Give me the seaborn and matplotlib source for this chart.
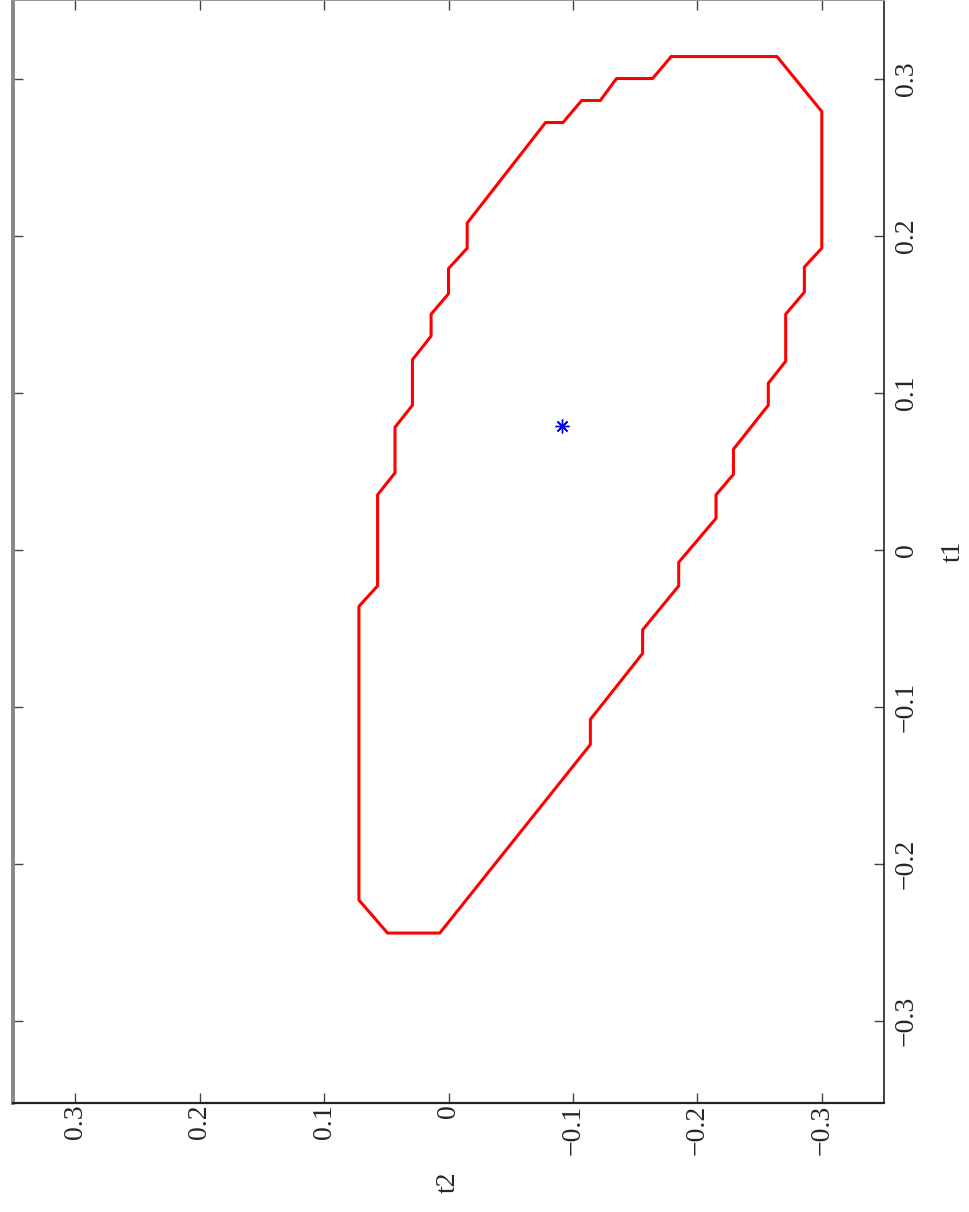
import matplotlib
matplotlib.use("Agg")
import matplotlib.pyplot as plt
import seaborn as sns

# ---- data ----
# closed boundary of the region, as (t1, t2) pairs in drawing order
t1 = [0.314, 0.314, 0.279, 0.192, 0.180, 0.164, 0.150, 0.120, 0.106, 0.092,
      0.064, 0.048, 0.035, 0.020, -0.008, -0.023, -0.051, -0.066, -0.108, -0.124,
      -0.244, -0.244, -0.223, -0.036, -0.023, 0.035, 0.049, 0.078, 0.092, 0.121,
      0.136, 0.150, 0.163, 0.179, 0.192, 0.208, 0.272, 0.272, 0.286, 0.286,
      0.300, 0.300, 0.314]
t2 = [-0.179, -0.264, -0.300, -0.300, -0.286, -0.286, -0.271, -0.271, -0.257, -0.257,
      -0.229, -0.229, -0.215, -0.215, -0.185, -0.185, -0.156, -0.156, -0.114, -0.114,
      0.007, 0.049, 0.072, 0.072, 0.057, 0.057, 0.043, 0.043, 0.029, 0.029,
      0.014, 0.014, 0.000, 0.000, -0.015, -0.015, -0.078, -0.092, -0.107, -0.122,
      -0.135, -0.164, -0.179]

# estimate
t1_hat = [0.079]
t2_hat = [-0.091]

ticks = [-0.3, -0.2, -0.1, 0, 0.1, 0.2, 0.3]
tick_labels = ["\u22120.3", "\u22120.2", "\u22120.1", "0", "0.1", "0.2", "0.3"]

# ---- style ----
sns.set_style("ticks")
plt.rcParams["font.family"] = ["Liberation Serif", "DejaVu Serif"]

W, H = 969, 1212
fig = plt.figure(figsize=(W / 100, H / 100), dpi=100)
ax = fig.add_axes([13 / W, 1 - 1103 / H, (884 - 13) / W, 1103 / H])

# the page is turned: t2 runs right-to-left along the bottom, t1 up the right side
sns.lineplot(x=t2, y=t1, sort=False, estimator=None, color="red", lw=2.2, ax=ax)
ax.plot(t2_hat, t1_hat, linestyle="none", marker=(8, 2, 0), ms=10, mew=1.0, color="blue")

ax.set_xlim(0.35, -0.35)
ax.set_ylim(-0.3522, 0.35)

ax.set_xticks(ticks)
ax.set_xticklabels(tick_labels, rotation=90, fontsize=20)
ax.set_yticks(ticks)
ax.set_yticklabels(tick_labels, rotation=90, va="center", fontsize=20)

ax.tick_params(axis="x", direction="in", length=7, width=1, color="#444444",
               top=True, bottom=True, labeltop=False, labelbottom=True, pad=1)
ax.tick_params(axis="y", direction="in", length=7, width=1, color="#444444",
               left=True, right=True, labelleft=False, labelright=True, pad=7)

ax.set_xlabel("t2", rotation=90, fontsize=20, labelpad=12)
ax.yaxis.set_label_position("right")
ax.set_ylabel("t1", rotation=90, fontsize=20, labelpad=16)

ax.spines["left"].set_color("#888888")
ax.spines["left"].set_linewidth(2.8)
ax.spines["top"].set_color("#999999")
ax.spines["top"].set_linewidth(1.5)
ax.spines["bottom"].set_color("#222222")
ax.spines["bottom"].set_linewidth(1.6)
ax.spines["right"].set_color("#222222")
ax.spines["right"].set_linewidth(1.2)

fig.savefig("out.png", dpi=100)
